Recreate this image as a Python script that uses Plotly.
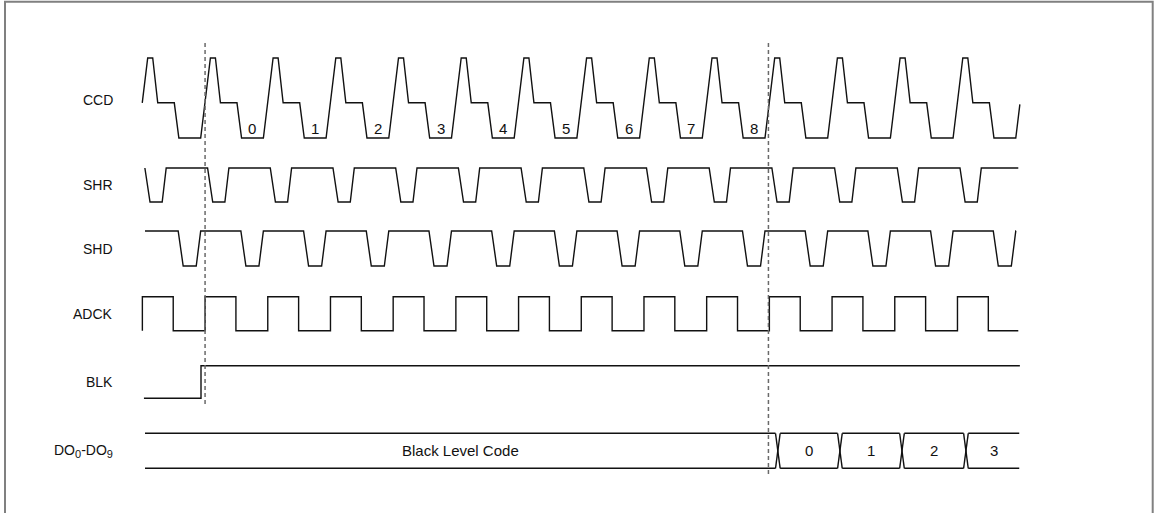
import plotly.graph_objects as go

# ---------------- data (time in clock periods, levels 0..1) ----------------
SIGNAL_NAMES = ["CCD", "SHR", "SHD", "ADCK", "BLK",
                "DO<sub><span style='font-size:11px'>0</span></sub>-DO<sub><span style='font-size:11px'>9</span></sub>"]
CYCLES = list(range(-1, 15))

CCD_SHAPE_T = [0.0, 0.08, 0.16, 0.424, 0.497, 0.845]
CCD_SHAPE_LVL = [1, 1, 0.44, 0.44, 0, 0]
CCD_WINDOW = [-0.087, 13.91]

SHR_SHAPE_T = [-0.045, 0.037, 0.231, 0.295]
SHR_SHAPE_LVL = [1, 0, 0, 1]
SHR_WINDOW = [-0.045, 13.885]

SHD_SHAPE_T = [0.486, 0.566, 0.774, 0.845]
SHD_SHAPE_LVL = [1, 0, 0, 1]
SHD_WINDOW = [-0.043, 13.85]

ADCK_SHAPE_T = [-0.085, -0.085, 0.407, 0.407]
ADCK_SHAPE_LVL = [0, 1, 1, 0]
ADCK_WINDOW = [-0.085, 13.885]

BLK_T = [-0.06, 0.85, 0.85, 13.91]
BLK_LVL = [0, 0, 1, 1]

CCD_PIXEL_LABELS = ["0", "1", "2", "3", "4", "5", "6", "7", "8"]
CCD_PIXEL_CYCLES = [1, 2, 3, 4, 5, 6, 7, 8, 9]
CCD_LABEL_OFFSET = 0.671

DO_TEXT = ["Black Level Code", "0", "1", "2", "3"]
DO_EDGES = [-0.043, 10.05, 11.04, 12.03, 13.05, 13.9]
DO_CROSS_HALF = 0.037

DASH_T = [0.915, 9.9]

# ---------------- layout constants (pixels) ----------------
W, H = 1157, 513
PX_T0, PX_PERIOD = 147.7, 62.7
LANES = {  # top, bottom
    "CCD": (58, 138),
    "SHR": (168, 202),
    "SHD": (231, 266),
    "ADCK": (296.7, 330.7),
    "BLK": (365.7, 398.3),
    "DO": (433.3, 468.3),
}
LINE = dict(color="#111111", width=1.4)
FONT = dict(family="Liberation Sans, Arial, Helvetica, sans-serif", size=14, color="#111111")


def periodic(shape_t, shape_l, cycles):
    ts, ls = [], []
    for k in cycles:
        for dt, lv in zip(shape_t, shape_l):
            ts.append(k + dt)
            ls.append(lv)
    return ts, ls


def clip(ts, ls, a, b):
    out_t, out_l = [], []
    for i in range(len(ts)):
        t, l = ts[i], ls[i]
        if a <= t <= b:
            if not out_t and i > 0 and t > a:
                t0, l0 = ts[i - 1], ls[i - 1]
                out_t.append(a)
                out_l.append(l0 + (l - l0) * (a - t0) / (t - t0))
            out_t.append(t)
            out_l.append(l)
        elif t > b:
            if out_t and out_t[-1] < b:
                t0, l0 = ts[i - 1], ls[i - 1]
                out_t.append(b)
                out_l.append(l0 + (l - l0) * (b - t0) / (t - t0))
            break
    return out_t, out_l


def to_y(lane, levels):
    top, bot = LANES[lane]
    return [top + (1 - lv) * (bot - top) for lv in levels]


fig = go.Figure()

def add_line(x, y, **kw):
    line = dict(LINE)
    line.update(kw.pop("line", {}))
    fig.add_trace(go.Scatter(x=x, y=y, mode="lines", line=line,
                             hoverinfo="skip", showlegend=False, **kw))

for lane, st, sl, win in [
    ("CCD", CCD_SHAPE_T, CCD_SHAPE_LVL, CCD_WINDOW),
    ("SHR", SHR_SHAPE_T, SHR_SHAPE_LVL, SHR_WINDOW),
    ("SHD", SHD_SHAPE_T, SHD_SHAPE_LVL, SHD_WINDOW),
    ("ADCK", ADCK_SHAPE_T, ADCK_SHAPE_LVL, ADCK_WINDOW),
]:
    t, l = periodic(st, sl, CYCLES)
    t, l = clip(t, l, win[0], win[1])
    add_line(t, to_y(lane, l))

add_line(BLK_T, to_y("BLK", BLK_LVL))

# data bus
top, bot = LANES["DO"]
mid = (top + bot) / 2
n = len(DO_TEXT)
for i in range(n):
    a = DO_EDGES[i] + (DO_CROSS_HALF if i > 0 else 0)
    b = DO_EDGES[i + 1] - (DO_CROSS_HALF if i < n - 1 else 0)
    add_line([a, b], [top, top])
    add_line([a, b], [bot, bot])
    fig.add_annotation(x=(a + b) / 2, y=mid, text=DO_TEXT[i], showarrow=False,
                       font=dict(FONT, size=15), xanchor="center", yanchor="middle")
for c in DO_EDGES[1:-1]:
    add_line([c - DO_CROSS_HALF, c + DO_CROSS_HALF], [top, bot])
    add_line([c - DO_CROSS_HALF, c + DO_CROSS_HALF], [bot, top])

# dashed markers
DASH_Y = [(43, 406), (43, 477)]
for t, (y0, y1) in zip(DASH_T, DASH_Y):
    add_line([t, t], [y0, y1], line=dict(color="#6a6a6a", width=1.5, dash="4px,3px"))

# CCD pixel numbers
for lab, k in zip(CCD_PIXEL_LABELS, CCD_PIXEL_CYCLES):
    fig.add_annotation(x=k + CCD_LABEL_OFFSET, y=128, text=lab, showarrow=False,
                       font=dict(FONT, size=15), xanchor="center", yanchor="middle")

# signal names
label_x = (114.5 - PX_T0) / PX_PERIOD
for name, lane in zip(SIGNAL_NAMES, ["CCD", "SHR", "SHD", "ADCK", "BLK", "DO"]):
    t_, b_ = LANES[lane]
    yc = (t_ + b_) / 2 if lane != "CCD" else 100
    fig.add_annotation(x=label_x, y=yc, text=name, showarrow=False, font=FONT,
                       xanchor="right", yanchor="middle")

# border
fig.add_shape(type="rect", xref="paper", yref="paper",
              x0=5 / W, x1=1152.7 / W, y0=-0.02, y1=1 - 1.7 / H,
              line=dict(color="#808080", width=2))

fig.update_layout(
    width=W, height=H,
    margin=dict(l=0, r=0, t=0, b=0),
    paper_bgcolor="white", plot_bgcolor="white",
    xaxis=dict(range=[-PX_T0 / PX_PERIOD, (W - PX_T0) / PX_PERIOD], visible=False),
    yaxis=dict(range=[H, 0], visible=False),
    showlegend=False,
)

fig.write_html("out.html",
               config={"displayModeBar": False, "staticPlot": True},
               post_script="document.body.style.margin='0px';"
                           "document.body.style.overflow='hidden';")
